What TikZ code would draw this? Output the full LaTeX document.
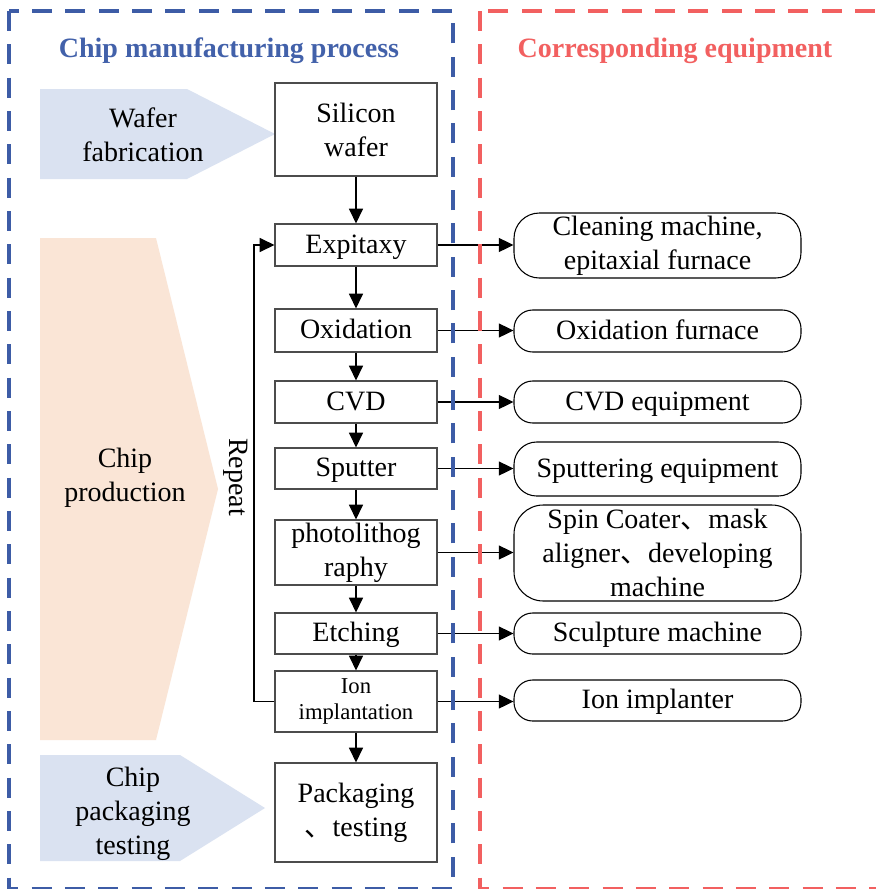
\documentclass[tikz,border=0pt]{standalone}
\usepackage{fontspec}
\setmainfont{Liberation Serif}
\newfontfamily\cjk{Noto Sans CJK SC}
\usetikzlibrary{arrows.meta}
\definecolor{frameblue}{RGB}{61,92,166}
\definecolor{titleblue}{RGB}{66,97,170}
\definecolor{framered}{RGB}{242,96,96}
\definecolor{chevblue}{RGB}{218,226,241}
\definecolor{chevpeach}{RGB}{250,229,214}
\tikzset{
  procbox/.style={draw=black!70, line width=0.9pt, fill=white, minimum width=121.5pt, inner sep=0pt, align=center, font=\fontsize{21}{25.5}\selectfont},
  equipbox/.style={draw=black, line width=0.8pt, fill=white, minimum width=215.25pt, inner sep=0pt, align=center, font=\fontsize{21}{25.5}\selectfont},
  oneline/.style={text height=15.5pt, text depth=3pt},
  chevtext/.style={align=center, font=\fontsize{21}{25.5}\selectfont},
  arr/.style={line width=1pt, -{Triangle[length=11pt,width=10.5pt]}},
  frame/.style={line width=2.4pt, dash pattern=on 15pt off 10pt},
  titletext/.style={anchor=base, font=\fontsize{21}{25}\selectfont\bfseries}
}
\begin{document}
\begin{tikzpicture}[x=0.75pt,y=-0.75pt]
\useasboundingbox (0,0) rectangle (875,889);
\fill[white] (0,0) rectangle (875,889);

% chevrons
\fill[chevblue] (40,89) -- (187,89) -- (275,134) -- (187,179) -- (40,179) -- cycle;
\fill[chevpeach] (40,238) -- (156,238) -- (218,489) -- (156,740) -- (40,740) -- cycle;
\fill[chevblue] (40,755) -- (180,755) -- (265,808) -- (180,861) -- (40,861) -- cycle;
\node[chevtext] (tw) at (143,135) {Wafer\\fabrication};
\node[chevtext] (tp) at (125,478) {Chip\\production};
\node[chevtext] (tc) at (133,814) {Chip\\packaging\\testing};

% titles
\node[titletext, text=titleblue] (t1) at (229,57) {Chip manufacturing process};
\node[titletext, text=framered] (t2) at (675,57) {Corresponding equipment};

% process boxes
\node[procbox, minimum height=69.75pt] (sil) at (356,129.5) {Silicon\\wafer};
\node[procbox, oneline, minimum height=31.5pt] (epi) at (356,245) {Expitaxy};
\node[procbox, oneline, minimum height=32.25pt] (oxi) at (356,330.5) {Oxidation};
\node[procbox, oneline, minimum height=31.5pt] (cvd) at (356,402) {CVD};
\node[procbox, oneline, minimum height=30.75pt] (spu) at (356,468.5) {Sputter};
\node[procbox, minimum height=48.75pt] (pho) at (356,552.5) {photolithog\\raphy};
\node[procbox, oneline, minimum height=30.75pt] (etc) at (356,633.5) {Etching};
\node[procbox, minimum height=45.75pt, font=\fontsize{17}{19}\selectfont] (ion) at (356,701.5) {Ion\\implantation};
\node[procbox, minimum height=74.25pt] (pac) at (356,812.5) {Packaging\\{\cjk 、}testing};

% equipment boxes
\node[equipbox, minimum height=48.75pt, rounded corners=19pt] (cle) at (657.5,245.5) {Cleaning machine,\\epitaxial furnace};
\node[equipbox, oneline, minimum height=31.5pt, rounded corners=14pt] (oxf) at (657.5,331) {Oxidation furnace};
\node[equipbox, oneline, minimum height=31.5pt, rounded corners=14pt] (cvde) at (657.5,402) {CVD equipment};
\node[equipbox, oneline, minimum height=40.5pt, rounded corners=17pt] (spe) at (657.5,469) {Sputtering equipment};
\node[equipbox, minimum height=72pt, rounded corners=22pt] (spin) at (657.5,553) {Spin Coater{\cjk 、}mask\\aligner{\cjk 、}developing\\machine};
\node[equipbox, oneline, minimum height=30.75pt, rounded corners=14pt] (scu) at (657.5,633.5) {Sculpture machine};
\node[equipbox, oneline, minimum height=30.75pt, rounded corners=14pt] (ioni) at (657.5,700.5) {Ion implanter};

% vertical arrows
\draw[arr] (sil) -- (epi);
\draw[arr] (epi) -- (oxi);
\draw[arr] (oxi) -- (cvd);
\draw[arr] (cvd) -- (spu);
\draw[arr] (spu) -- (pho);
\draw[arr] (pho) -- (etc);
\draw[arr] (etc) -- (ion);
\draw[arr] (ion) -- (pac);

% horizontal arrows
\draw[arr] (epi.east) -- (epi.east -| cle.west);
\draw[arr] (oxi.east) -- (oxi.east -| oxf.west);
\draw[arr] (cvd.east) -- (cvd.east -| cvde.west);
\draw[arr] (spu.east) -- (spu.east -| spe.west);
\draw[arr] (pho.east) -- (pho.east -| spin.west);
\draw[arr] (etc.east) -- (etc.east -| scu.west);
\draw[arr] (ion.east) -- (ion.east -| ioni.west);

% repeat loop
\coordinate (rp) at (254,701.5);
\draw[arr] (ion.west) -- (rp) |- (epi.west);
\node[rotate=-90, font=\fontsize{21}{25}\selectfont] (rep) at (236,477) {Repeat};

% frames
\draw[frame, draw=frameblue] (9,11) rectangle (453,888.5);
\draw[frame, draw=framered] (480,11) rectangle (900,888.5);
\end{tikzpicture}
\end{document}
